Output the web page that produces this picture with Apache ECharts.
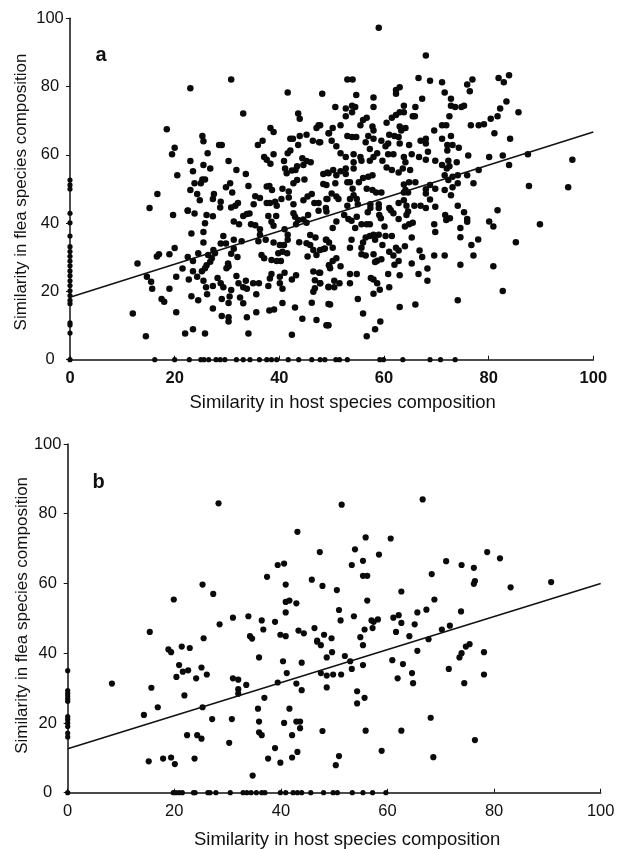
<!DOCTYPE html>
<html><head><meta charset="utf-8">
<style>html,body{margin:0;padding:0;background:#fff}#c{width:620px;height:849px}</style>
<script src="https://cdn.jsdelivr.net/npm/echarts@6/dist/echarts.min.js"></script>
</head><body><div id="c"></div>
<script>
const xTitle = "Similarity in host species composition";
const yTitle = "Similarity in flea species composition";
const trendA = [[0, 18.3], [100, 66.7]];
const trendB = [[0, 12.6], [100, 60]];
const pointsA = [
[23,79.5],[30.8,82.1],[33.1,72.1],[41.6,78.3],[48.2,77.9],[43.6,72.1],[43.9,70.6],[18.5,67.5],[25.3,65.5],[25.5,64],[20,62.1],[19.5,60.2],[28.5,62.9],[29,62.9],[26.3,60.5],[23,58.2],[23.5,55.2],[25.5,57],[26.8,56],[20.5,54],[30.3,58.2],[31.8,55.6],[33.6,54.4],[25.3,52.8],[25.8,52.8],[23.8,51.7],[25,51.7],[23,49.7],[24.3,48.5],[16.7,48.5],[24.8,46.7],[34.1,50.9],[30.6,51.7],[29.8,50.5],[31,49],[27.5,48.5],[27.3,47.1],[28.8,46.3],[28.7,44.6],[32.1,45.9],[31.6,45.1],[30.8,44.6],[15.2,44.4],[22.5,43.7],[35.1,45.5],[35.4,47.9],[36.3,47.4],[37.6,45.9],[38.2,45.9],[37.6,50.7],[38.1,50.9],[38.6,49.7],[40.6,50.1],[41.8,49.3],[41.8,47.5],[42.7,45.5],[39.2,46.3],[39.5,45.1],[40.4,47.1],[44.6,46.7],[42.7,51.7],[43.4,52.6],[44.8,52.8],[46.2,48.5],[45.4,47.8],[46.7,45.9],[47.5,45.9],[49,47.1],[48.4,54.4],[49.4,54.6],[48.4,51.5],[49,51.2],[35.9,62.9],[36.8,64.1],[38.3,67.9],[38.9,66.7],[38.9,60.2],[37.1,59.4],[37.6,58.6],[38.3,57.4],[40.9,58.2],[41.6,60.5],[42.1,61.3],[42.1,64.7],[42.6,64.7],[43.9,65.5],[45.2,65.9],[43.6,62.9],[46.4,64.1],[47.6,63.7],[47.1,67.9],[47.5,68.7],[49.4,66.3],[44.4,59],[45.2,58.2],[46,57.8],[44.6,57],[43.4,56.7],[43.1,55.6],[42.4,55.4],[41.4,54.6],[41.1,56],
[59,97.2],[68,89.1],[53,82.1],[54,82.1],[66.6,82.5],[68.8,81.7],[71.1,81.3],[76.9,82.1],[75.9,80.6],[81.9,82.5],[83.9,83.3],[82.9,81.3],[76.4,78.6],[71.6,78.3],[63,79.8],[62.3,79],[62.3,77.9],[54.7,77.5],[58,76.8],[67.3,76.4],[72.8,76.4],[83.4,75.6],[50.7,74],[52.7,73.6],[53.9,74.4],[54.5,74],[53.9,72.5],[52.7,71.3],[58,74],[63.8,74.4],[66,74],[72.8,74.4],[73.6,74],[74.8,74],[75.3,74.4],[82.2,73.6],[85.7,72.5],[81.7,71.3],[80.4,70.6],[79.1,69],[78.1,68.7],[76.6,68.7],[72.5,71.3],[65.5,71.3],[65.9,71.3],[63,72.5],[63.8,72.5],[62.3,71.7],[61.5,70.9],[60.5,69.4],[56.7,70.9],[56,70.2],[55.5,68.7],[51.7,68.7],[50.2,67.9],[47.8,68.7],[57.8,68.3],[58,67.1],[63,68.3],[64.1,67.9],[63.3,67.1],[71.1,68.7],[71.9,68.7],[69.6,67.1],[71.1,64.7],[72.8,65.5],[81.1,66.3],[84.1,64.7],[49.5,66.3],[50,64.1],[47.8,63.7],[53,65.5],[53.9,65.2],[54.7,65.2],[57,65.5],[58,64.7],[56.5,63.7],[57.3,61.7],[59.5,64.1],[60.8,63.3],[60.3,62.5],[61,65.9],[62,65.5],[62.8,65.2],[63,63.3],[64.8,62.9],[67,64.1],[68,64.7],[68,63.3],[72.1,62.9],[73.1,62.9],[74.3,62.1],[72.1,61.3],[68.4,60.9],[50.9,62.5],[51.7,60.5],[52.7,59.4],[54.2,60.2],[55.5,59.4],[55.7,58.3],[57.3,58.3],[58.7,60.5],[58,59.4],[59.7,58.3],[60.8,60.2],[61.8,60.2],[63.8,59.4],[64.1,57.8],[65.3,60.2],[66.7,59.4],[68,58.6],[69.8,58.3],[72.3,58.3],[73.9,57.8],[76.1,59.8],[80.1,59.4],[82.7,59.8],[87.5,60.2],[96,58.6],[83.9,57],[71.1,57],[72.5,56.7],[72,56],[78.1,55.6],[54.2,57.8],[54.2,56],[52.7,56],[60.5,56.3],[61.5,55.6],[62.8,54.8],[63.6,56],[65,55.6],[51.7,55.2],[50.3,55.6],[49.2,54.8],[52.7,54.4],[50.9,54],[57.8,54],[57,53.6],[56,53.2],[55.2,52],[53,52],[53.5,52],[50.7,51.7],[54,50.1],[56.7,50.1],[57.8,49.7],[58.5,49],[59.5,49],[50,48.7],[50.9,47.8],[51.3,47.1],[49.2,47.1],[53.5,47.1],[54.2,48.2],[54.8,47.1],[55,45.5],[53,45.1],[48.9,44.4],[57.4,45.5],[59,45.5],[57.4,44.4],[59,44.4],[61,44.4],[62.8,45.9],[63.8,46.7],[64.3,45.1],[65.8,45.1],[67,45.1],[68,44.4],[69.8,44.8],[68.8,46.9],[68,48.7],[68,49.9],[68.8,51.2],[69.8,50.1],[71.6,49.7],[72.8,48.2],[74.1,45.1],[73.1,50.5],[74.1,51.7],[77.1,51.7],[75.9,54],[74.1,54],[73.1,53.6],[71.6,54],[72.3,52.6],[63.8,51.3],[64.8,52],[66,52],[64.1,49.7],[64.6,49],[63.8,49],[87.7,50.9],[95.2,50.5],[81.7,43.8],
[89.8,39.7],[80.1,40.5],[80.9,39],[85.2,34.4],[78,35.2],[76.7,33.6],[77.1,30.5],[74.6,38.6],[74.6,35.9],[74.6,27.8],[80.9,27.4],[82.7,20.1],[74.1,17.4],[75.3,43.2],[75.9,41.2],[75.9,40.4],[71.7,42.4],[71.9,40.9],[72.6,41.4],[69.6,39.7],[69.8,37.4],[71.6,30.5],[69.6,30.5],[68.3,26.7],[68.3,23.1],[66.6,25.1],[65.3,28.2],[67.3,30.1],[66.8,32],[66,16.2],[63,15.4],[65.3,35.8],[65.5,40.1],[64.8,39.7],[64,39],[64,33.2],[62.8,32],[62.3,32.8],[61.8,30.5],[61,31.6],[62.8,28.9],[62,27.8],[63,24.7],[60.8,25.1],[61,21.2],[59.2,20.5],[58,19.3],[58.7,22.4],[58,23.5],[57.5,23.9],[59.5,29.4],[58.7,29],[58.3,28.6],[58,30.9],[56.5,30.5],[55.7,30.9],[59.7,33.6],[61.5,36.2],[60.3,36.2],[59,36.6],[58,36.6],[57.3,36.2],[56.5,35.8],[58.3,35.1],[56,34.3],[55.7,32.8],[53.8,35.1],[53.5,32.8],[49,35.1],[49.5,34.3],[50.2,32.8],[48.5,32.4],[50.2,38.6],[50.9,40.5],[54.5,38.6],[55.7,39.7],[56.7,39.7],[57.3,39.7],[52.4,42.4],[53.2,41.2],[53.8,40.7],[54.8,41.9],[56.9,43.2],[59.1,42.4],[59.4,41.4],[60.1,39],[61.3,43.8],[61.8,42.9],[62.8,41.2],[64.6,43.4],[64.3,42.4],[50.9,29.7],[50.2,28.9],[49.5,27.7],[49.7,26.8],[51.7,27.4],[53.5,25.1],[54.8,25.1],[53.5,22.4],[51.5,22.4],[50.5,23.1],[50.5,21.2],[49.4,21.2],[47.8,22.4],[47.8,25.5],[55,17.8],[49.7,16.2],[56,13.5],[59.3,11.2],[58.3,8.9],[56.7,6.9],[49.4,10.1],[49,10.1],
[19.7,42.4],[22.5,43.6],[23.8,42.8],[26.1,42.4],[27.3,42],[25.8,40],[31.3,40.5],[32.3,39.7],[33.1,42.1],[33.8,42.7],[34.3,42.8],[37.9,42.1],[39.4,42.1],[38.5,40.4],[38.9,39.2],[34.6,39.7],[35.4,39.4],[36.3,38.2],[36.3,36.6],[41,38.2],[41.6,36.6],[41.6,35.1],[42.7,42.9],[43,41.9],[43.6,40.9],[43.2,39.7],[44.6,41.1],[45.5,42.4],[45.2,40.1],[47.5,43.6],[49,43.4],[23.2,37],[25.5,37.4],[29.3,36.2],[25.5,34.3],[28.8,34],[29.8,34],[31.3,35.1],[32.8,34.7],[31.3,32.5],[30.8,31],[32,30.1],[36,34.7],[37.4,35.1],[38.9,34.3],[40.1,33.6],[40.9,33.6],[36.6,30.7],[37.1,29.7],[38.5,29.2],[39.5,28.9],[40.3,28.9],[39.8,31.2],[40.6,31.6],[41.5,31.2],[43.8,34.4],[45.9,36.5],[46.9,35.8],[48.9,35.1],[45.2,34.1],[45.9,33.6],[46.5,32.1],[47.1,30.7],[45.4,30.2],[47.8,32.1],[48.7,32.6],[49.5,27.7],[46.5,25.8],[47.6,25.5],[46.8,23.3],[47.8,22.4],[49.4,21.4],[46.8,20.9],[46.5,19.9],[46.2,16.7],[49.4,16.3],[47.1,11.6],[49.2,10.1],[44.4,12],[43,15.3],[42.4,7.3],[40.6,16.6],[39,14.7],[38.1,14.4],[35.6,13.9],[33.8,12.4],[30.3,12.4],[30.3,11.2],[29,12.8],[27.3,15],[20.3,13.9],[12,13.5],[14.5,6.9],[22,7.7],[23.5,8.9],[25.8,7.7],[34.1,7.7],[12.9,28.2],[14.7,24.3],[15.5,22.8],[15.7,20.8],[17.5,17.8],[18,17],[19,20.8],[20.3,24.3],[21.5,26.7],[22.7,23.5],[23.5,25.9],[24.3,24.3],[23.2,18.6],[24.5,17.4],[25.5,23.1],[26,21.2],[27.3,21.6],[26.2,19.2],[28.2,23.9],[28.8,22.4],[29.3,21.2],[29,17.8],[30.8,20.4],[30.5,18.5],[30.3,16.6],[31.8,24.5],[32.2,22.4],[33.6,23.1],[33.1,21.2],[33.8,20.8],[32.5,18.2],[33.1,16.5],[35,22.4],[36.1,22.4],[35.6,19.2],[37.9,21.6],[38.2,23.8],[38.5,25.1],[40.1,22.4],[40.6,20.8],[41,25.5],[40.1,24.3],[42.4,23.5],[43.2,24.7],[16.6,30.2],[17,30.9],[19,30.9],[20,32.7],[22.5,30.1],[23.5,28.9],[24.5,31.2],[27.4,32.1],[27.7,31.2],[27.1,29.7],[26.8,28.7],[26.1,27.7],[25.8,26.8],[25.2,25.9],[30.2,28.2],[30.3,27.4],[29.9,26.8],[26.4,30.7]
];
const zeroXA = [0,16.2,20,22.8,25,25.6,26.5,27.9,28.7,29.6,31.8,33.1,34.4,36.2,37.6,38.5,39.5,41.7,43.7,46.2,47.8,48.7,50.8,51.5,53,59.2,59.9,63.6,68.8,70.8,73.6];
const zeroYA = [52.6,51.2,50,42.9,40.1,36.2,33.1,31.7,30.3,28.9,27.5,26,24.6,23.1,21.7,20.2,18.8,17.4,16.4,10.8,10.2,7.8];
const pointsB = [
[28.3,83],[43.1,74.8],[47.3,69],[39.4,65.3],[40.6,65.7],[37.4,61.9],[25.3,59.7],[27.3,57],[19.9,55.4],[40.9,59.7],[45.8,61.1],[47.8,59.3],[50.5,58.1],[40.9,54.7],[41.6,55.1],[42.9,54.3],[40.9,51.7],[28.5,48.3],[31,50.2],[33.9,50.6],[36.4,49.4],[38.9,49],[36.7,46.8],[43.3,46.5],[44.3,45.7],[46.3,47.2],[48.1,45.3],[39.9,45.3],[40.9,44.9],[15.4,46.1],[25.5,44.3],[34.2,44.9],[34.6,44.2],[49.5,44.3],[46.8,43.6],[50.9,52.4],[51.2,49.4],
[51.4,82.6],[66.6,84.1],[55.9,73.2],[60.6,72.9],[53.9,69.8],[58.4,68.3],[55.4,66.5],[53.3,65.3],[55.4,62.2],[56.2,62.2],[78.7,69],[81.1,67.2],[71,66.4],[73.9,65.3],[76.2,64.5],[68.3,62.7],[76.4,60.7],[76.2,59.9],[90.7,60.4],[83.1,58.9],[62.6,57.7],[56.2,55.1],[68.8,55.4],[65.6,51.7],[67.3,52.5],[73.8,52],[53.7,50.6],[57,49.4],[57.4,49],[58.2,49.7],[61.1,50.2],[62.1,50.9],[62.6,48.7],[65.1,48.3],[55.7,46.8],[57.2,47.2],[61.6,46.1],[64.1,44.9],[54.9,44.6],[70.2,46.8],[71.7,47.9],[67.7,44],
[18.9,41.1],[19.4,40.3],[21.4,41.9],[22.9,41.5],[35.9,38.8],[46.8,43.3],[47.5,42.3],[49.6,40.3],[48.6,38.8],[40.4,37.7],[43.9,37.3],[20.9,36.6],[25.1,35.9],[22.6,35.1],[21.6,34.7],[26.1,33.9],[20.4,33.2],[24.1,32.8],[41.1,34.3],[47.5,34.3],[48.6,33.6],[49.8,33.9],[31,32.8],[32,32.4],[33.5,30.9],[32,29.7],[32,28.4],[39.4,31.6],[42.9,31.3],[43.9,29.4],[48.6,30.2],[8.3,31.3],[15.7,30.1],[21.9,27.9],[36.9,27.2],[16.9,24.5],[25.3,24.5],[14.3,22.3],[35.7,24.1],[41.6,24.1],[27.1,21.1],[30.8,21.1],[35.9,20.4],[40.6,20],[42.9,20.4],[43.6,20.4],[43.6,18.5],[47.8,17.7],[35.9,17.3],[36.4,16.5],[42.1,16.5],[22.4,16.5],[24.3,16.5],[25.1,15.5],[30.3,14.3],[38.9,12.8],[43.1,11.7],[42.1,10.1],[37.6,9.8],[39.9,8.6],[15.2,9],[17.9,9.8],[19.4,10.1],[20.1,8.2],[23.8,9.8],[34.7,4.9],[50.3,7.9],[50.9,10.5],
[55.4,42.3],[52,39.2],[53,37.7],[53.3,35.5],[55.4,36.6],[60.9,38],[62.9,36.9],[65.6,40.7],[75.4,42.6],[74.7,41.9],[73.9,40],[73.5,38.8],[78.1,40.3],[78.1,33.9],[71.5,35.5],[74.4,31.4],[64.6,34.3],[64.8,31.4],[61.9,32.8],[51.3,33.9],[54.3,29.1],[55.7,27.2],[54.3,25.6],[68.1,21.5],[55.9,17.8],[62.6,17.8],[76.4,15.1],[58.9,12],[68.6,10.2]
];
const zeroXB = [0,19.8,20.3,20.9,21.5,23.6,23.9,26.3,26.7,27.8,30.5,32.9,33.6,34.4,35.4,36.4,37,39.9,40.9,42.3,43.1,43.9,45.6,48,49.8,50.6,53.4,55.4,57.2,59.7];
const zeroYB = [35,29.3,28.5,27.7,26.9,26.2,21.8,21,20,19,17.1,16];

const font = "Liberation Sans, Arial, sans-serif";
function onAxes(zx, zy) {
  return zx.map(x => [x, 0]).concat(zy.map(y => [0, y]));
}
function xAxis(i, bold, gap, shift) {
  return { gridIndex: i, type: 'value', min: 0, max: 100, interval: 20,
    name: xTitle, nameLocation: 'middle', nameGap: gap, nameMoveOverlap: false,
    nameTextStyle: { fontFamily: font, fontSize: 18.5, color: '#111', padding: [0, 0, 0, shift] },
    splitLine: { show: false },
    axisLine: { lineStyle: { color: '#111', width: 1.5 } },
    axisTick: { inside: true, length: 4, lineStyle: { color: '#111' } },
    axisLabel: { fontFamily: font, fontSize: 16.5, color: '#111', margin: 10, fontWeight: bold ? 'bold' : 'normal', hideOverlap: false } };
}
function yAxis(i, gap, pad) {
  return { gridIndex: i, type: 'value', min: 0, max: 100, interval: 20,
    name: yTitle, nameLocation: 'middle', nameGap: gap, nameMoveOverlap: false,
    nameTextStyle: { fontFamily: font, fontSize: 17, color: '#111', padding: pad },
    splitLine: { show: false },
    axisLine: { lineStyle: { color: '#111', width: 1.5 } },
    axisTick: { inside: false, length: 4, lineStyle: { color: '#111' } },
    axisLabel: { fontFamily: font, fontSize: 16.5, color: '#111', margin: 20, align: 'center', hideOverlap: false } };
}
function dots(i, data, size) {
  return { type: 'scatter', xAxisIndex: i, yAxisIndex: i, data, symbolSize: size, clip: false,
    itemStyle: { color: '#0a0a0a', opacity: 1 }, silent: true, z: 3 };
}
function trend(i, data) {
  return { type: 'line', xAxisIndex: i, yAxisIndex: i, data, symbol: 'none', clip: false,
    lineStyle: { color: '#111', width: 1.5 }, silent: true, z: 4 };
}
const chart = echarts.init(document.getElementById('c'), null, { renderer: 'canvas' });
chart.setOption({
  animation: false,
  backgroundColor: '#fff',
  title: [
    { text: 'a', left: 95.5, top: 45, padding: 0, textStyle: { fontFamily: font, fontSize: 20, fontWeight: 'bold', color: '#111' } },
    { text: 'b', left: 92.5, top: 472, padding: 0, textStyle: { fontFamily: font, fontSize: 20, fontWeight: 'bold', color: '#111' } }
  ],
  grid: [
    { left: 70, top: 18.3, width: 523.3, height: 341.4, outerBoundsMode: 'none' },
    { left: 67.7, top: 444, width: 533, height: 348.7, outerBoundsMode: 'none' }
  ],
  xAxis: [xAxis(0, true, 34, 22), xAxis(1, false, 38, 26)],
  yAxis: [yAxis(0, 40, [0, 6, 0, 0]), yAxis(1, 37, [0, 0, 0, 6])],
  series: [
    dots(0, pointsA, 6.5),
    dots(0, onAxes(zeroXA, zeroYA), 5.2),
    trend(0, trendA),
    dots(1, pointsB, 6.2),
    dots(1, onAxes(zeroXB, zeroYB), 5.2),
    trend(1, trendB)
  ]
});
</script></body></html>
